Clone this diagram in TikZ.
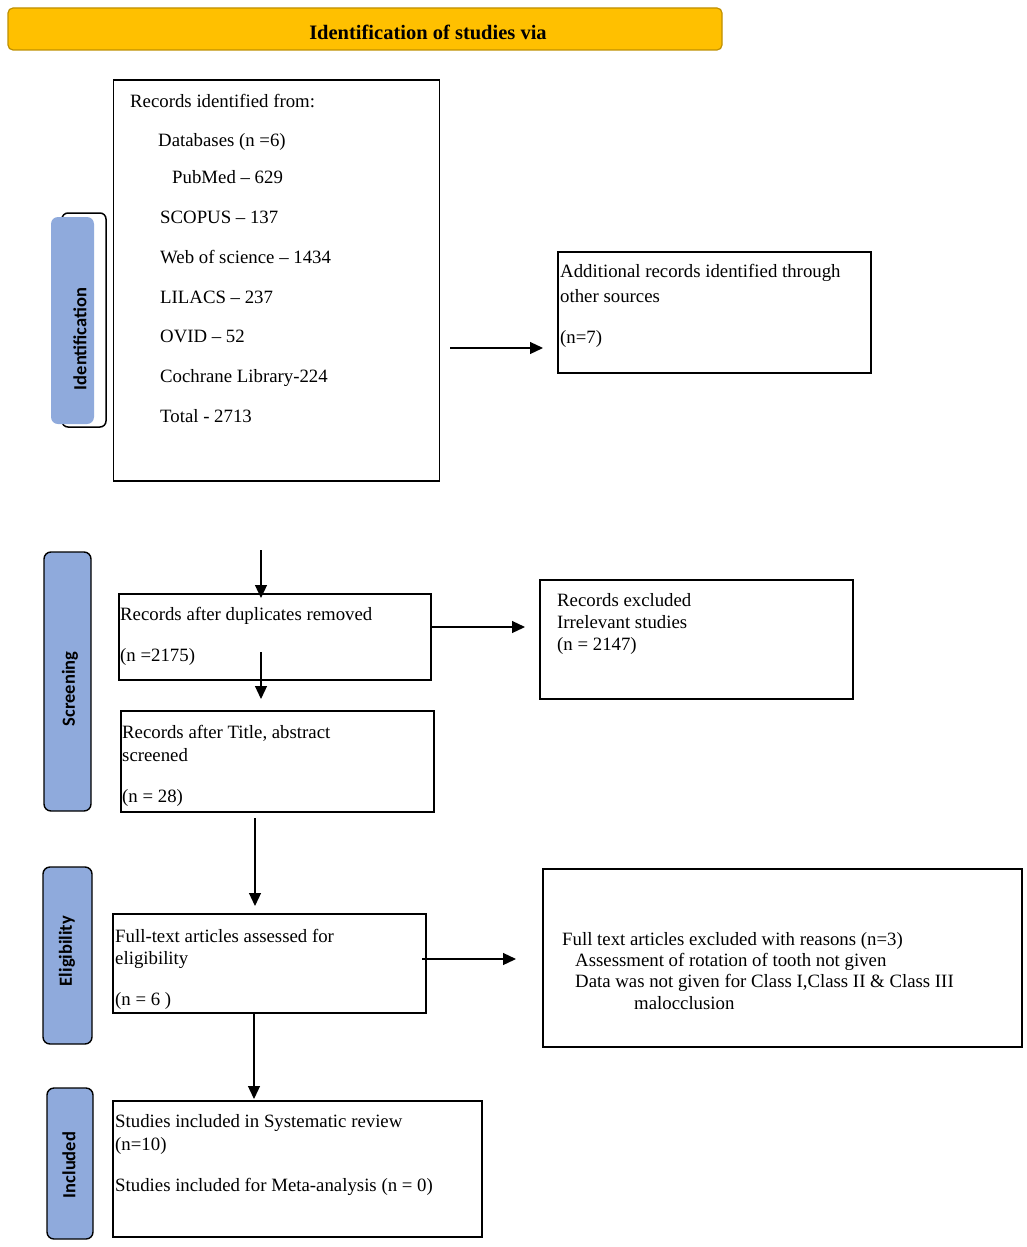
\documentclass[tikz,border=0pt]{standalone}
\usepackage{fontspec}
\setmainfont{Liberation Serif}
\newfontfamily\labfont{Carlito}
\usetikzlibrary{arrows.meta}
\definecolor{bannerfill}{HTML}{FFC000}
\definecolor{bannerline}{HTML}{BF9000}
\definecolor{phasefill}{HTML}{8FAADC}
\begin{document}
\begin{tikzpicture}[x=1pt,y=-1pt,
  box/.style={draw=black, line width=1.5pt, inner sep=0pt},
  txt/.style={anchor=mid west, inner sep=0pt, yshift=-4pt, font=\fontsize{18.8}{22}\selectfont},
  phase/.style={draw=black, line width=1.4pt, fill=phasefill, rounded corners=7pt, inner sep=0pt},
  phaselab/.style={rotate=90, inner sep=0pt, font=\labfont\bfseries\fontsize{18.5}{21}\selectfont},
  arr/.style={line width=1.2pt, -{Triangle[length=13pt,width=12pt]}}]
\useasboundingbox (0,0) rectangle (1026,1247);
% banner
\node[draw=bannerline, fill=bannerfill, rounded corners=5pt, line width=1.2pt, minimum width=714pt, minimum height=42pt, inner sep=0pt] (banner) at (365,29) {};
\node[inner sep=0pt, font=\bfseries\fontsize{20.5}{24}\selectfont] (bannertxt) at (428,32) {Identification of studies via};
% phase labels
\node[draw=black, line width=1.5pt, fill=white, rounded corners=6pt, minimum width=44pt, minimum height=214pt, inner sep=0pt] (idback) at (84,320) {};
\node[fill=phasefill, rounded corners=7pt, minimum width=43pt, minimum height=207pt, inner sep=0pt] (idph) at (72.5,320.5) {};
\node[phaselab] (idlab) at (80,339) {Identification};
\node[phase, minimum width=47pt, minimum height=259pt] (scph) at (67.5,681.5) {};
\node[phaselab] (sclab) at (70,689) {Screening};
\node[phase, minimum width=49pt, minimum height=177pt] (elph) at (67.5,955.5) {};
\node[phaselab] (ellab) at (67,951) {Eligibility};
\node[phase, minimum width=46pt, minimum height=151pt] (inph) at (70,1163.5) {};
\node[phaselab] (inlab) at (69,1165) {Included};
% boxes
\node[box, minimum width=326pt, minimum height=401pt] (rec) at (276.5,280.5) {};
\node[box, minimum width=313pt, minimum height=121pt] (add) at (714.5,312.5) {};
\node[box, minimum width=312pt, minimum height=86pt] (dup) at (275,637) {};
\node[box, minimum width=313pt, minimum height=119pt] (exc) at (696.5,639.5) {};
\node[box, minimum width=313pt, minimum height=101pt] (tit) at (277.5,761.5) {};
\node[box, minimum width=313pt, minimum height=99pt] (ft) at (269.5,963.5) {};
\node[box, minimum width=479pt, minimum height=178pt] (ftx) at (782.5,958) {};
\node[box, minimum width=369pt, minimum height=136pt] (inc) at (297.5,1169) {};
% texts
\node[txt] (r1) at (130,101) {Records identified from:};
\node[txt] (r2) at (158,140) {Databases (n =6)};
\node[txt] (r3) at (172,177) {PubMed – 629};
\node[txt] (r4) at (160,217) {SCOPUS – 137};
\node[txt] (r5) at (160,257) {Web of science – 1434};
\node[txt] (r6) at (160,297) {LILACS – 237};
\node[txt] (r7) at (160,336) {OVID – 52};
\node[txt] (r8) at (160,376) {Cochrane Library-224};
\node[txt] (r9) at (160,416) {Total - 2713};
\node[txt] (a1) at (560,271) {Additional records identified through};
\node[txt] (a2) at (560,296) {other sources};
\node[txt] (a3) at (560,337) {(n=7)};
\node[txt] (d1) at (120,614) {Records after duplicates removed};
\node[txt] (d2) at (120,655) {(n =2175)};
\node[txt] (e1) at (557,600) {Records excluded};
\node[txt] (e2) at (557,622) {Irrelevant studies};
\node[txt] (e3) at (557,644) {(n = 2147)};
\node[txt] (t1) at (122,732) {Records after Title, abstract};
\node[txt] (t2) at (122,755) {screened};
\node[txt] (t3) at (122,796) {(n = 28)};
\node[txt] (f1) at (115,936) {Full-text articles assessed for};
\node[txt] (f2) at (115,958) {eligibility};
\node[txt] (f3) at (115,999) {(n = 6 )};
\node[txt] (x1) at (562,939) {Full text articles excluded with reasons (n=3)};
\node[txt] (x2) at (575,960) {Assessment of rotation of tooth not given};
\node[txt] (x3) at (575,981) {Data was not given for Class I,Class II \& Class III};
\node[txt] (x4) at (634,1003) {malocclusion};
\node[txt] (i1) at (115,1121) {Studies included in Systematic review};
\node[txt] (i2) at (115,1144) {(n=10)};
\node[txt] (i3) at (115,1185) {Studies included for Meta-analysis (n = 0)};
% connectors
\coordinate (c1s) at (450,348); \coordinate (c1e) at (543,348);
\coordinate (c2s) at (261,550); \coordinate (c2e) at (261,598);
\coordinate (c3s) at (261,652); \coordinate (c3e) at (261,699);
\coordinate (c4e) at (525,627);
\coordinate (c5s) at (255,818); \coordinate (c5e) at (255,906);
\coordinate (c6s) at (422,959); \coordinate (c6e) at (516,959);
\coordinate (c7e) at (254,1099);
\draw[arr] (c1s) -- (c1e);
\draw[arr] (c2s) -- (c2e);
\draw[arr] (c3s) -- (c3e);
\draw[arr] (dup.east |- c4e) -- (c4e);
\draw[arr] (c5s) -- (c5e);
\draw[arr] (c6s) -- (c6e);
\draw[arr] (ft.south -| c7e) -- (c7e);
\end{tikzpicture}
\end{document}
